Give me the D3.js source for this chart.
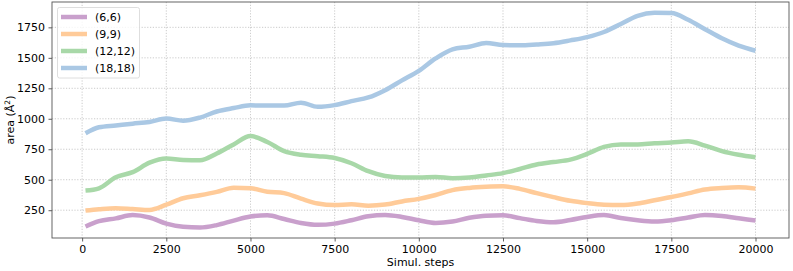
<!DOCTYPE html>
<html>
<head>
<meta charset="utf-8">
<script src="https://cdn.jsdelivr.net/npm/d3@7"></script>
<style>
  html, body { margin: 0; padding: 0; background: #fff; }
  svg { display: block; }
  text { font-family: "DejaVu Sans", sans-serif; fill: #000; }
</style>
</head>
<body>
<div id="chart"></div>
<script>
// ---- data ----
const steps = [100, 500, 1000, 1500, 2000, 2500, 3000, 3500, 4000, 4500, 5000,
  5500, 6000, 6500, 7000, 7500, 8000, 8500, 9000, 9500, 10000,
  10500, 11000, 11500, 12000, 12500, 13000, 13500, 14000, 14500, 15000,
  15500, 16000, 16500, 17000, 17500, 18000, 18500, 19000, 19500, 20000];

const labels = ["(6,6)", "(9,9)", "(12,12)", "(18,18)"];
const colors = ["#c9a0cc", "#ffcb99", "#a8d8a8", "#aac8e4"];

const s66 = [116, 160, 183, 210, 190, 140, 114, 108, 128, 165, 198,
  208, 178, 145, 130, 140, 168, 200, 211, 195, 167,
  145, 157, 188, 205, 208, 185, 162, 152, 170, 195,
  210, 186, 168, 158, 168, 190, 211, 203, 184, 165];

const s99 = [247, 258, 267, 260, 252, 295, 348, 372, 400, 435, 430,
  402, 390, 345, 305, 292, 298, 287, 296, 322, 343,
  375, 415, 433, 442, 446, 425, 390, 357, 327, 308,
  295, 292, 305, 332, 358, 388, 420, 432, 438, 427];

const s1212 = [411, 430, 520, 562, 640, 675, 662, 660, 715, 790, 858,
  810, 735, 705, 693, 678, 635, 570, 530, 518, 518,
  523, 512, 518, 535, 554, 588, 625, 645, 665, 712,
  770, 790, 790, 799, 805, 815, 780, 735, 705, 684];

const s1818 = [881, 930, 945, 960, 974, 1002, 984, 1010, 1060, 1088, 1110,
  1108, 1108, 1132, 1098, 1112, 1145, 1175, 1235, 1315, 1393,
  1495, 1570, 1591, 1622, 1605, 1603, 1610, 1620, 1643, 1670,
  1712, 1778, 1845, 1869, 1867, 1812, 1735, 1660, 1600, 1558];

const xTicks = [0, 2500, 5000, 7500, 10000, 12500, 15000, 17500, 20000];
const yTicks = [250, 500, 750, 1000, 1250, 1500, 1750];

const series = [s66, s99, s1212, s1818];

// ---- layout ----
const W = 793, H = 271;
const m = { left: 52, right: 4, top: 2, bottom: 33 };
const FS = 11;

const svg = d3.select("#chart").append("svg")
  .attr("width", W).attr("height", H);

const x = d3.scaleLinear().domain([-895, 20995]).range([m.left, W - m.right]);
const y = d3.scaleLinear().domain([22, 1958]).range([H - m.bottom, m.top]);

// grid
const g = svg.append("g");
g.selectAll(".gx").data(xTicks).enter().append("line")
  .attr("x1", d => x(d)).attr("x2", d => x(d))
  .attr("y1", m.top).attr("y2", H - m.bottom)
  .attr("stroke", "#b0b0b0").attr("stroke-width", 0.8)
  .attr("stroke-dasharray", "1.2,1.6").attr("opacity", 0.8);
g.selectAll(".gy").data(yTicks).enter().append("line")
  .attr("x1", m.left).attr("x2", W - m.right)
  .attr("y1", d => y(d)).attr("y2", d => y(d))
  .attr("stroke", "#b0b0b0").attr("stroke-width", 0.8)
  .attr("stroke-dasharray", "1.2,1.6").attr("opacity", 0.8);

// lines
const line = d3.line().x((d, i) => x(steps[i])).y(d => y(d)).curve(d3.curveMonotoneX);
series.forEach((s, k) => {
  svg.append("path").datum(s)
    .attr("d", line)
    .attr("fill", "none")
    .attr("stroke", colors[k])
    .attr("stroke-width", 4.5)
    .attr("stroke-linejoin", "round")
    .attr("stroke-linecap", "butt");
});

// axes
const xAxis = svg.append("g")
  .attr("transform", `translate(0,${H - m.bottom})`)
  .call(d3.axisBottom(x).tickValues(xTicks).tickSize(3.5).tickPadding(3.5).tickFormat(d3.format("d")));
const yAxis = svg.append("g")
  .attr("transform", `translate(${m.left},0)`)
  .call(d3.axisLeft(y).tickValues(yTicks).tickSize(3.5).tickPadding(3.5).tickFormat(d3.format("d")));
[xAxis, yAxis].forEach(a => {
  a.select(".domain").remove();
  a.selectAll("text").attr("font-size", FS).attr("fill", "#000")
    .attr("font-family", "DejaVu Sans, sans-serif");
  a.selectAll("line").attr("stroke", "#333").attr("stroke-width", 0.8);
});

// frame
svg.append("rect")
  .attr("x", m.left).attr("y", m.top)
  .attr("width", W - m.right - m.left).attr("height", H - m.bottom - m.top)
  .attr("fill", "none").attr("stroke", "#555").attr("stroke-width", 0.9);

// axis labels
svg.append("text")
  .attr("x", (m.left + W - m.right) / 2).attr("y", 266)
  .attr("text-anchor", "middle").attr("font-size", FS).attr("fill", "#000").text("Simul. steps");
const yl = svg.append("text")
  .attr("transform", `translate(14,${(m.top + H - m.bottom) / 2}) rotate(-90)`)
  .attr("text-anchor", "middle").attr("font-size", FS).attr("fill", "#000");
yl.append("tspan").attr("fill", "#000").text("area (Å");
yl.append("tspan").attr("fill", "#000").attr("font-size", 7.5).attr("dy", -4).text("2");
yl.append("tspan").attr("fill", "#000").attr("dy", 4).text(")");

// legend
const lg = svg.append("g");
lg.append("rect").attr("x", 57.5).attr("y", 7.5).attr("width", 82).attr("height", 70.5)
  .attr("rx", 2).attr("fill", "#fff").attr("fill-opacity", 0.8)
  .attr("stroke", "#d6d6d6").attr("stroke-width", 0.8);
labels.forEach((lab, k) => {
  const yy = 17 + k * 17;
  lg.append("line").attr("x1", 61).attr("x2", 87).attr("y1", yy).attr("y2", yy)
    .attr("stroke", colors[k]).attr("stroke-width", 4.5);
  lg.append("text").attr("x", 95).attr("y", yy + 4).attr("font-size", FS)
    .attr("fill", "#000").text(lab);
});
</script>
</body>
</html>
